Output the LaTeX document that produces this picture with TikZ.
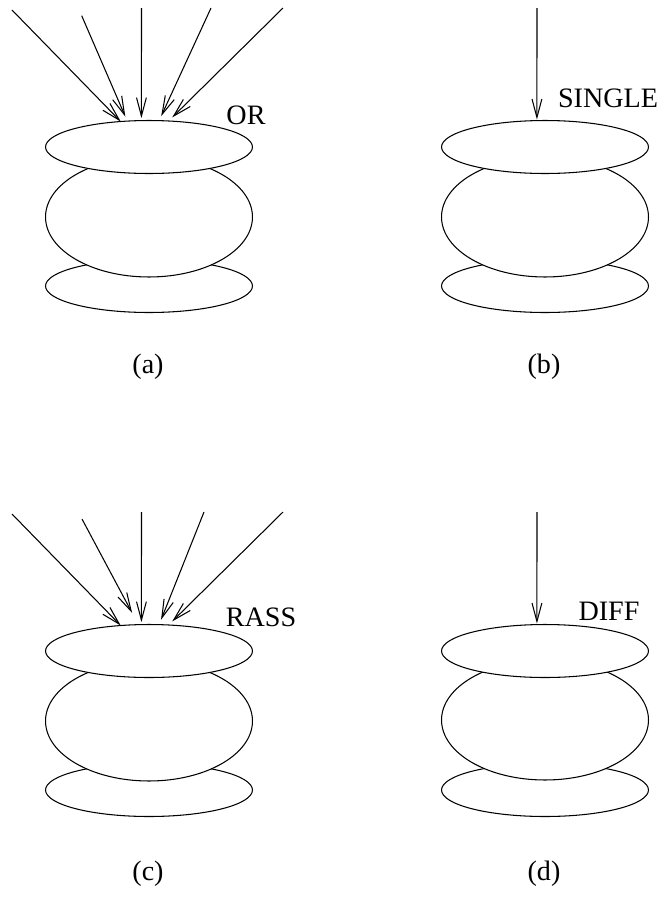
\documentclass[tikz,border=0pt]{standalone}
\usepackage{fontspec}
\setmainfont{Liberation Serif}
\usetikzlibrary{arrows.meta,shapes.geometric}

\begin{document}
\begin{tikzpicture}[
    x=0.02cm, y=-0.02cm,
    disc/.style={draw, ellipse, fill=white, line width=0.6pt, inner sep=0pt, outer sep=0pt, minimum width=4.14cm, minimum height=1.06cm},
    bulb/.style={disc, minimum height=2.4cm},
    arr/.style={-{Straight Barb[length=10.5pt, width=5.6pt]}, line width=0.6pt},
    lbl/.style={font=\fontsize{16pt}{18pt}\selectfont, inner sep=0pt}
]
\useasboundingbox (0,0) rectangle (661,910);

% panel (a)
\node[disc] (abot) at (149,286) {};
\node[bulb] (amid) at (149,217) {};
\node[disc] (atop) at (149,147) {};
\coordinate (a1) at (12,10);
\coordinate (a2) at (81.7,15.7);
\coordinate (a3) at (141.5,8);
\coordinate (a4) at (211,8);
\coordinate (a5) at (283,8);
\draw[arr] (a1) -- (atop.138);
\draw[arr, shorten >=2.8pt] (a2) -- (atop.130);
\draw[arr, shorten >=1.4pt] (a3) -- (atop.106);
\draw[arr, shorten >=2.8pt] (a4) -- (atop.69);
\draw[arr, shorten >=2.9pt] (a5) -- (atop.53);
\node[lbl] (alab) at (246,115) {OR};
\node[lbl] (acap) at (148,367) {(a)};

% panel (b)
\node[disc] (bbot) at (545,286) {};
\node[bulb] (bmid) at (545,217) {};
\node[disc] (btop) at (545,147) {};
\coordinate (b1) at (537,8);
\draw[arr, shorten >=0.6pt] (b1) -- (btop.107);
\node[lbl] (blab) at (608,98) {SINGLE};
\node[lbl] (bcap) at (544,367) {(b)};

% panel (c)
\node[disc] (cbot) at (149,790) {};
\node[bulb] (cmid) at (149,721) {};
\node[disc] (ctop) at (149,651) {};
\coordinate (c1) at (12,514);
\coordinate (c2) at (82,519);
\coordinate (c3) at (141.5,512);
\coordinate (c4) at (204,512);
\coordinate (c5) at (283,512);
\draw[arr] (c1) -- (ctop.138);
\draw[arr, shorten >=7.6pt] (c2) -- (ctop.112);
\draw[arr, shorten >=1.4pt] (c3) -- (ctop.106);
\draw[arr, shorten >=3pt] (c4) -- (ctop.69);
\draw[arr, shorten >=2.9pt] (c5) -- (ctop.53);
\node[lbl] (clab) at (261,617) {RASS};
\node[lbl] (ccap) at (148,874) {(c)};

% panel (d)
\node[disc] (dbot) at (545,790) {};
\node[bulb] (dmid) at (545,720) {};
\node[disc] (dtop) at (545,651) {};
\coordinate (d1) at (537,512);
\draw[arr, shorten >=0.6pt] (d1) -- (dtop.107);
\node[lbl] (dlab) at (609,611) {DIFF};
\node[lbl] (dcap) at (544,874) {(d)};
\end{tikzpicture}
\end{document}
